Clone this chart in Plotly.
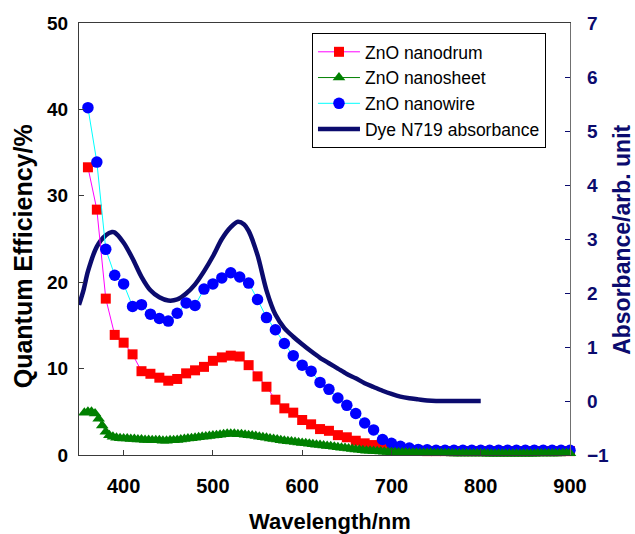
import numpy as np
import plotly.graph_objects as go

# ---------------- data ----------------
wl_drum = [360, 370, 380, 390, 400, 410, 420, 430, 440, 450, 460, 470, 480, 490, 500,
           510, 520, 530, 540, 550, 560, 570, 580, 590, 600, 610, 620, 630, 640, 650,
           660, 670, 680, 690, 700, 710, 720, 730, 740, 750, 760, 770, 780, 790, 800,
           810, 820, 830, 840, 850, 860, 870, 880, 890, 900]
qe_drum = [33.3, 28.4, 18.1, 13.9, 13.0, 11.65, 9.7, 9.4, 8.95, 8.6, 8.8, 9.45, 9.8, 10.2, 10.9,
           11.3, 11.5, 11.4, 10.4, 9.1, 7.9, 6.4, 5.4, 4.9, 4.05, 3.55, 3.0, 2.8, 2.3, 2.05,
           1.65, 1.35, 1.15, 0.95, 0.8, 0.65, 0.55, 0.5, 0.45, 0.45, 0.45, 0.45, 0.45, 0.45, 0.45,
           0.45, 0.45, 0.45, 0.45, 0.45, 0.45, 0.45, 0.45, 0.45, 0.45]

wl_wire = wl_drum
qe_wire = [40.2, 33.9, 23.8, 20.8, 19.8, 17.2, 17.4, 16.3, 15.8, 15.5, 16.4, 17.6, 17.3, 19.2, 19.8,
           20.5, 21.1, 20.6, 19.9, 18.0, 15.9, 14.5, 12.9, 11.5, 10.4, 9.7, 8.4, 7.6, 6.6, 5.75,
           4.8, 3.7, 2.9, 1.8, 1.35, 1.0, 0.8, 0.65, 0.6, 0.55, 0.55, 0.55, 0.55, 0.55, 0.55,
           0.55, 0.55, 0.55, 0.55, 0.55, 0.55, 0.55, 0.55, 0.55, 0.55]

wl_sheet = list(range(356, 901, 4))
qe_sheet = [4.9, 5.0, 5.0, 4.8, 4.2, 3.4, 2.7, 2.3, 2.1, 2.0, 1.95, 1.9, 1.9, 1.85, 1.85,
            1.8, 1.8, 1.75, 1.75, 1.7, 1.7, 1.7, 1.65, 1.65, 1.7, 1.7, 1.75, 1.8, 1.85, 1.9,
            1.95, 2.0, 2.05, 2.1, 2.15, 2.2, 2.25, 2.3, 2.35, 2.4, 2.45, 2.45, 2.45, 2.4, 2.4,
            2.35, 2.3, 2.25, 2.2, 2.1, 2.05, 2.0, 1.9, 1.85, 1.8, 1.7, 1.65, 1.6, 1.55, 1.5,
            1.45, 1.4, 1.35, 1.3, 1.25, 1.2, 1.15, 1.1, 1.05, 1.0, 0.95, 0.9, 0.85, 0.8, 0.75,
            0.7, 0.65, 0.6, 0.55, 0.5, 0.48, 0.45, 0.42, 0.4, 0.37, 0.35, 0.33, 0.32, 0.3, 0.29,
            0.28, 0.27, 0.26, 0.25, 0.24, 0.23, 0.22, 0.22, 0.21, 0.2, 0.2, 0.19, 0.19, 0.18, 0.18,
            0.18, 0.17, 0.17, 0.17, 0.16, 0.16, 0.16, 0.16, 0.15, 0.15, 0.15, 0.15, 0.15, 0.15, 0.15,
            0.15, 0.15, 0.15, 0.15, 0.15, 0.15, 0.15, 0.16, 0.16, 0.16, 0.17, 0.17, 0.18, 0.18, 0.19,
            0.2, 0.2]

wl_dye = [350, 355, 360, 370, 380, 387, 390, 400, 410, 420, 430, 440, 450, 460, 470,
          480, 490, 500, 510, 520, 528, 535, 540, 550, 560, 570, 580, 590, 600, 610,
          620, 630, 640, 650, 660, 670, 680, 690, 700, 710, 720, 730, 740, 750, 760,
          770, 780, 790, 800]
abs_dye = [1.78, 2.05, 2.4, 2.86, 3.07, 3.13, 3.12, 2.93, 2.64, 2.3, 2.05, 1.92, 1.86, 1.88, 1.99,
           2.16, 2.4, 2.68, 3.0, 3.22, 3.32, 3.27, 3.15, 2.7, 2.05, 1.6, 1.35, 1.19, 1.05, 0.92,
           0.8, 0.7, 0.6, 0.5, 0.42, 0.33, 0.26, 0.19, 0.13, 0.08, 0.05, 0.03, 0.01, 0.0, 0.0,
           0.0, 0.0, 0.0, 0.0]

x_ticks = [400, 500, 600, 700, 800, 900]
qe_ticks = [0, 10, 20, 30, 40, 50]
abs_ticks = [-1, 0, 1, 2, 3, 4, 5, 6, 7]

NAVY = "#0b0b6e"
FONT = "Arial, Liberation Sans, sans-serif"
FRAME = "#3a3a3a"

fig = go.Figure()

fig.add_trace(go.Scatter(
    x=wl_dye, y=abs_dye, name="Dye N719 absorbance", mode="lines",
    line=dict(color=NAVY, width=4.5, shape="spline", smoothing=0.8),
    yaxis="y", legendrank=4, legendgroup="d"))

fig.add_trace(go.Scatter(
    x=wl_drum, y=qe_drum, name="ZnO nanodrum", mode="lines+markers",
    line=dict(color="#ff00ff", width=1),
    marker=dict(symbol="square", size=10, color="#ff0000"),
    yaxis="y2", legendrank=1, legendgroup="a", cliponaxis=False))

fig.add_trace(go.Scatter(
    x=wl_wire, y=qe_wire, name="ZnO nanowire", mode="lines+markers",
    line=dict(color="#00ffff", width=1),
    marker=dict(symbol="circle", size=11.5, color="#0000ff"),
    yaxis="y2", legendrank=3, legendgroup="c", cliponaxis=False))

fig.add_trace(go.Scatter(
    x=wl_sheet, y=qe_sheet, name="ZnO nanosheet", mode="lines+markers",
    line=dict(color="#008000", width=1),
    marker=dict(symbol="triangle-up", size=11, color="#008000"),
    yaxis="y2", legendrank=2, legendgroup="b", cliponaxis=False))

fig.update_layout(
    width=635, height=534,
    margin=dict(l=79, r=65, t=23, b=79),
    paper_bgcolor="white", plot_bgcolor="white",
    font=dict(family=FONT, color="black"),
    showlegend=True,
    legend=dict(
        x=0.4745, y=0.977, xanchor="left", yanchor="top",
        bordercolor="black", borderwidth=1, bgcolor="white",
        font=dict(family=FONT, size=17.5, color="black"),
        tracegroupgap=0, itemwidth=42,
    ),
    xaxis=dict(
        range=[350, 900], tickvals=x_ticks, ticks="inside", ticklen=5,
        tickcolor=FRAME, showline=True, linecolor=FRAME, linewidth=1.3, mirror=True,
        showgrid=False, zeroline=False,
        tickfont=dict(family=FONT, size=20, color="black", weight="bold"),
        ticklabelstandoff=13,
    ),
    yaxis=dict(
        range=[-1, 7], tickvals=abs_ticks, side="right", ticks="inside", ticklen=5,
        tickcolor=NAVY, showline=True, linecolor="#707070", linewidth=1.3,
        showgrid=False, zeroline=False,
        tickfont=dict(family=FONT, size=19, color=NAVY, weight="bold"),
        ticklabelstandoff=12,
    ),
    yaxis2=dict(
        range=[0, 50], tickvals=qe_ticks, side="left", overlaying="y", ticks="inside",
        ticklen=5, tickcolor=FRAME, showline=True, linecolor=FRAME, linewidth=1.3,
        showgrid=False, zeroline=False,
        tickfont=dict(family=FONT, size=19, color="black", weight="bold"),
        ticklabelstandoff=6,
    ),
    annotations=[
        dict(text="<b>Wavelength/nm</b>", xref="paper", yref="paper", x=0.511, y=-0.155,
             xanchor="center", yanchor="middle", showarrow=False,
             font=dict(family=FONT, size=22, color="black")),
        dict(text="<b>Quantum Efficiency/%</b>", xref="paper", yref="paper", x=-0.114, y=0.46,
             xanchor="center", yanchor="middle", showarrow=False, textangle=-90,
             font=dict(family=FONT, size=25, color="black")),
        dict(text="<b>Absorbance/arb. unit</b>", xref="paper", yref="paper", x=1.107, y=0.497,
             xanchor="center", yanchor="middle", showarrow=False, textangle=-90,
             font=dict(family=FONT, size=23, color=NAVY)),
    ],
)

fig.write_html("out.html")
